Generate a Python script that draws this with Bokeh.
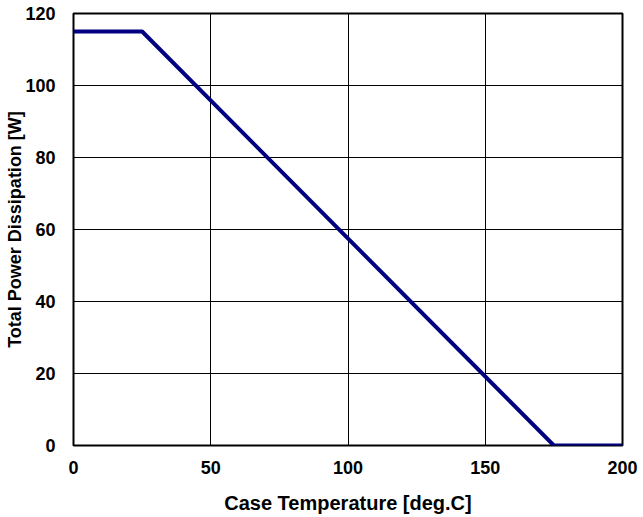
from bokeh.plotting import figure
from bokeh.models import Range1d, FixedTicker
from bokeh.embed import file_html
from bokeh.resources import INLINE

# Data
case_temp = [0, 25, 175, 200]
power_w = [115, 115, 0, 0]
x_ticks = [0, 50, 100, 150, 200]
y_ticks = [0, 20, 40, 60, 80, 100, 120]

FONT = "Liberation Sans"

p = figure(width=643, height=517, output_backend="svg", toolbar_location=None,
           x_range=Range1d(0, 200), y_range=Range1d(0, 120),
           min_border_left=73, min_border_right=21, min_border_top=13, min_border_bottom=72)

p.line(case_temp, power_w, line_color="#000080", line_width=4)

p.outline_line_color = "black"
p.outline_line_width = 2
p.background_fill_color = "white"
p.border_fill_color = "white"

p.xaxis.ticker = FixedTicker(ticks=x_ticks)
p.yaxis.ticker = FixedTicker(ticks=y_ticks)

for ax in (p.xaxis, p.yaxis):
    ax.axis_line_color = None
    ax.major_tick_line_color = None
    ax.minor_tick_line_color = None
    ax.major_label_text_font = FONT
    ax.major_label_text_font_style = "bold"
    ax.major_label_text_font_size = "18px"
    ax.major_label_text_color = "black"
    ax.axis_label_text_font = FONT
    ax.axis_label_text_font_style = "bold"
    ax.axis_label_text_color = "black"

p.xaxis.axis_label = "Case Temperature [deg.C]"
p.xaxis.axis_label_text_font_size = "20px"
p.xaxis.major_label_standoff = 9
p.xaxis.axis_label_standoff = 15

p.yaxis.axis_label = "Total Power Dissipation [W]"
p.yaxis.axis_label_text_font_size = "18px"
p.yaxis.major_label_standoff = 12
p.yaxis.axis_label_standoff = -3

p.grid.grid_line_color = "black"
p.grid.grid_line_width = 1
p.grid.grid_line_alpha = 1.0

open("out.html", "w").write(file_html(p, INLINE))
